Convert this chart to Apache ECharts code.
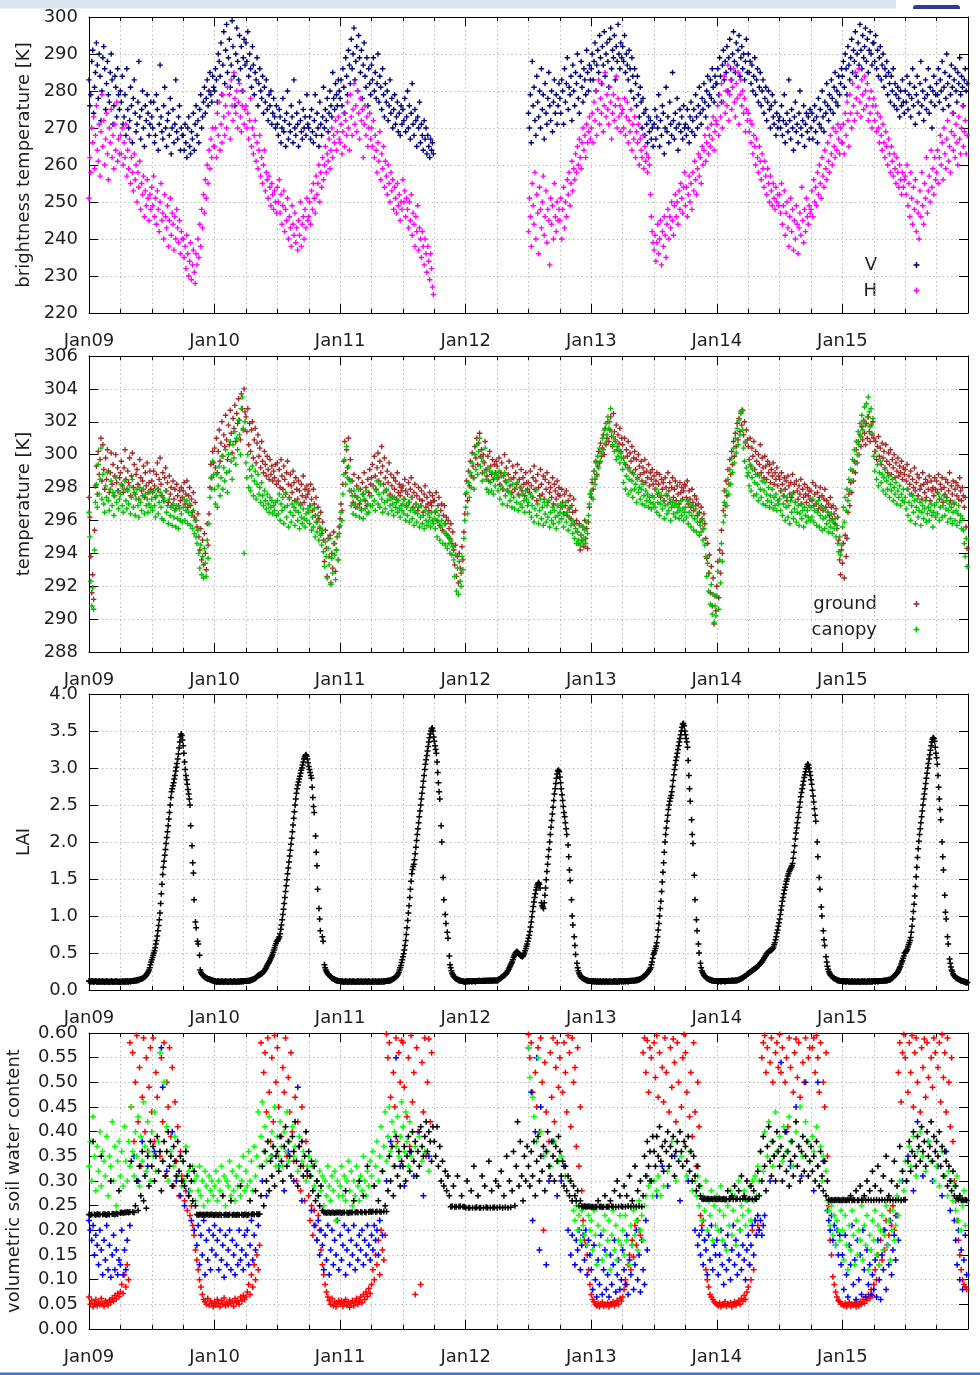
<!DOCTYPE html>
<html>
<head>
<meta charset="utf-8">
<title>Brightness temperature, temperature, LAI and soil moisture 2009-2015</title>
<script src="https://cdn.jsdelivr.net/npm/echarts@6/dist/echarts.min.js"></script>
<style>
  html, body { margin: 0; padding: 0; background: #ffffff; }
  #chart { width: 980px; height: 1375px; }
</style>
</head>
<body>
<div id="chart"></div>
<script>
// ---------------------------------------------------------------
// Time base: every row below covers one calendar quarter
// (Q1 2009 ... Q4 2015); samples in a row are evenly spaced in it.
// An empty row means no data in that quarter.
// ---------------------------------------------------------------
const YEAR0 = 2009;
const yearLabels = ['Jan09', 'Jan10', 'Jan11', 'Jan12', 'Jan13', 'Jan14', 'Jan15'];

// Panel 1: brightness temperature [K]
const tbV = [
  [283,276,279,288,291,274,281,285,293,287,278,290,284,272,280,289,292,286,275,282,288,279,277,285,290,283,271,276,284,281,273,286,279,275],
  [280,277,284,271,273,279,268,286,275,270,272,281,276,266,278,283,274,269,271,277,288,273,267,275,280,270,265,276,272,279,274,268,271,277],
  [273,270,277,266,268,279,275,264,271,287,273,269,267,276,281,270,265,272,274,268,278,263,270,275,266,271,283,269,267,273,276,264,270,268],
  [268,264,271,266,262,270,273,265,263,269,267,274,264,271,276,268,272,266,275,279,270,273,277,281,274,278,283,276,280,285,279,277,284,281],
  [280,286,283,277,290,288,284,293,279,287,296,282,291,298,285,289,294,281,287,299,292,284,276,290,297,288,283,295,286,292,280,289,294,287],
  [293,288,296,284,290,286,281,292,287,279,285,283,289,276,282,286,280,278,284,274,281,277,283,275,272,279,276,280,271,274,278,273,270,276],
  [271,268,275,273,266,270,278,269,272,265,274,280,267,271,269,276,273,266,283,270,268,274,271,265,277,272,269,267,275,270,273,268,279,271],
  [270,273,267,275,269,266,272,279,268,274,270,265,277,271,268,273,281,270,275,272,278,269,274,280,276,273,285,278,275,282,279,276,283,280],
  [278,283,276,286,281,274,289,284,279,291,287,282,294,286,290,297,283,288,292,280,295,289,285,291,278,287,293,284,281,289,276,286,282,279],
  [287,283,289,280,285,278,282,290,277,284,281,275,286,279,273,282,277,280,272,276,283,274,278,270,275,279,271,273,277,269,274,268,276,271],
  [275,272,278,269,273,280,270,276,267,274,282,271,268,275,272,265,273,270,277,266,271,268,264,272,267,270,263,268,265,262,267,264,266,263],
  [], [], [],
  [274,270,279,266,288,276,281,272,268,284,277,273,280,270,286,275,279,267,282,274,271,278,285,276,272,280,269,277,283,274,279,271,276,282],
  [278,274,283,280,271,286,277,282,289,275,281,279,284,272,287,280,276,285,282,290,278,274,284,288,281,277,286,283,279,291,285,280,287,283],
  [286,290,283,288,293,280,287,291,285,295,289,282,292,287,296,284,290,293,288,281,294,297,286,291,289,295,283,292,288,298,290,286,293,289],
  [292,288,295,285,290,287,283,291,286,280,289,284,278,286,282,276,284,279,273,281,277,270,278,274,268,275,271,266,273,269,272,267,270,265],
  [271,275,267,273,270,279,265,272,268,276,274,263,270,281,269,273,266,277,271,268,285,272,267,274,270,278,264,271,275,269,273,267,276,270],
  [271,268,275,270,266,273,277,269,272,275,268,279,273,270,276,281,274,271,278,275,282,277,273,280,284,276,279,283,278,286,281,277,284,282],
  [282,286,279,289,284,277,287,291,283,288,285,292,280,289,294,286,283,290,296,288,285,293,287,291,295,284,289,292,286,290,283,288,294,285],
  [290,285,288,282,287,280,284,289,279,283,286,277,281,285,276,280,283,274,278,281,272,277,280,275,270,276,279,273,271,277,268,274,270,272],
  [273,270,276,268,272,279,266,271,274,269,283,272,267,275,270,264,273,277,269,271,266,274,280,270,268,272,276,265,271,274,269,273,267,275],
  [270,274,267,272,276,269,273,266,278,271,275,270,280,273,269,277,274,282,276,272,279,275,283,278,274,281,285,277,280,276,284,279,282,286],
  [284,288,281,290,286,279,292,287,283,289,294,285,291,288,296,284,290,293,287,298,291,286,295,289,292,297,288,294,285,291,296,290,287,293],
  [293,288,295,286,291,284,289,292,283,287,290,281,286,284,288,279,285,282,277,284,280,286,276,282,279,275,281,278,273,280,276,283,277,274],
  [280,277,284,275,279,282,273,278,286,276,281,271,279,284,277,274,282,288,276,280,272,278,283,275,279,286,274,281,277,270,280,284,276,279],
  [282,279,286,277,283,280,288,275,281,285,278,290,282,276,284,279,287,281,274,283,286,280,277,285,282,289,279,284,281,276,283,286,280,282]
];
const tbH = [
  [251,262,258,270,266,273,259,268,276,264,261,271,257,269,279,265,272,260,267,274,263,256,270,266,275,262,268,259,271,264,277,261,267,263],
  [268,263,270,260,266,262,271,257,264,259,267,255,262,258,253,263,256,260,250,258,254,261,248,255,252,257,246,253,249,256,251,245,252,248],
  [254,249,257,246,251,244,253,248,242,250,255,245,247,240,252,246,243,249,238,245,251,241,247,244,237,246,240,248,243,239,245,236,242,240],
  [240,235,238,232,241,236,230,234,239,229,233,237,231,228,236,233,240,235,244,238,248,243,252,247,256,251,260,255,264,259,267,262,270,265],
  [265,270,262,274,268,277,264,271,266,279,273,268,276,270,281,274,279,267,283,276,272,285,278,274,280,270,277,282,273,269,276,280,271,275],
  [276,270,274,267,272,278,265,270,263,268,272,261,266,259,264,268,257,262,255,260,264,253,258,256,251,257,254,249,255,252,248,253,250,247],
  [254,250,256,247,252,244,249,253,242,248,245,251,240,246,243,238,249,244,241,247,239,243,237,245,241,250,238,244,246,240,248,243,251,245],
  [246,250,244,253,248,255,251,247,257,252,255,260,250,258,254,262,256,260,265,258,263,261,267,259,264,270,262,268,266,272,264,269,273,267],
  [266,271,263,269,274,265,272,268,277,270,264,279,273,268,275,282,271,276,269,280,274,267,278,272,275,262,271,276,268,273,265,270,274,267],
  [270,265,272,262,268,264,258,266,261,269,256,263,259,265,254,261,257,252,260,255,250,258,253,256,248,254,251,247,255,249,252,245,250,248],
  [256,250,253,246,251,248,243,250,245,252,241,247,244,238,246,242,249,237,243,240,235,242,238,233,240,236,231,238,234,229,236,232,227,225],
  [], [], [],
  [242,251,246,238,255,249,244,258,240,252,247,236,254,248,243,250,257,241,246,253,239,248,245,233,251,244,249,240,255,246,242,250,245,248],
  [245,251,240,248,254,243,250,246,256,252,258,249,255,261,253,259,256,263,258,265,260,267,262,259,266,270,264,268,262,271,266,269,273,267],
  [270,274,266,277,272,280,268,275,283,271,278,274,282,269,276,285,273,279,275,271,281,277,267,274,279,272,276,284,270,278,273,276,269,274],
  [275,270,278,268,273,277,266,272,269,275,264,271,267,273,262,269,266,271,260,267,264,262,268,259,265,261,263,258,262,260,252,246,242,239],
  [237,241,234,239,244,236,240,245,233,242,238,246,241,235,244,248,240,246,243,250,245,241,249,252,246,250,244,253,248,255,251,247,254,258],
  [249,254,246,252,257,250,255,248,258,253,261,256,252,259,263,257,262,255,265,260,264,268,261,266,270,263,268,265,271,267,273,264,269,272],
  [271,276,268,279,273,282,270,277,284,274,280,276,287,272,279,283,275,281,286,277,273,282,278,285,271,279,283,276,280,274,278,269,275,272],
  [274,269,272,266,271,263,268,265,260,267,262,258,265,261,256,263,259,254,261,257,252,259,255,250,257,253,249,255,251,248,254,250,252,249],
  [252,247,255,244,249,253,241,247,250,243,238,246,251,242,248,237,245,240,249,244,236,243,247,241,254,245,239,248,242,251,246,244,249,247],
  [248,253,246,256,250,254,249,258,252,260,255,251,262,257,254,264,259,256,266,261,258,268,263,260,270,265,262,269,264,271,267,263,270,266],
  [266,271,263,274,268,277,272,265,279,274,270,282,276,272,285,278,274,281,286,277,273,283,279,275,284,280,276,282,272,278,274,280,270,276],
  [278,272,276,269,274,270,266,273,268,264,271,266,262,269,265,260,267,263,258,265,261,257,263,259,255,262,258,254,260,256,252,258,254,256],
  [257,252,260,249,255,246,258,251,244,254,248,256,242,250,247,240,253,246,258,249,244,255,251,262,247,253,257,250,264,254,259,252,262,256],
  [258,264,255,262,268,260,266,256,270,263,259,267,272,261,265,258,269,274,264,268,262,271,266,260,273,267,263,270,276,265,269,272,263,268]
];

// Panel 2: ground and canopy temperature [K]
const tGround = [
  [297.4,296.2,293.8,291.6,292.7,291.2,295.4,298.1,299.3,297.6,300.2,298.8,299.7,301.0,298.4,300.6,299.1,297.9,299.8,298.5,300.3,299.0,297.7,298.9,300.1,298.2,299.4,297.5,298.7,300.0,298.3,299.2,297.8,298.6],
  [298.9,299.6,298.1,297.7,299.2,300.3,298.5,297.9,299.0,298.3,299.8,297.5,298.7,300.1,298.0,299.4,297.6,298.8,299.1,298.2,297.3,299.7,298.6,297.8,298.4,299.3,297.4,298.9,298.1,299.5,297.7,298.3,299.0,297.9],
  [298.4,297.7,299.0,298.1,297.4,298.8,299.5,297.9,298.5,299.8,298.2,297.5,298.9,297.2,298.6,299.2,297.8,298.3,297.1,298.7,297.6,298.0,296.9,298.4,297.3,297.9,296.7,298.2,297.5,296.9,297.8,297.2,298.0,297.4],
  [297.8,298.3,297.0,297.6,298.4,296.8,297.5,298.0,296.9,297.3,296.5,297.7,296.2,297.1,296.0,295.6,296.4,295.0,294.2,295.5,293.6,294.8,293.3,295.2,294.0,293.0,295.8,294.5,296.4,298.0,299.4,298.6,300.2,299.5],
  [300.4,299.2,301.0,298.9,300.2,301.5,299.6,300.7,302.0,299.9,301.2,300.5,302.4,300.9,299.7,301.8,300.6,302.7,301.3,300.1,302.2,301.6,303.0,300.8,302.5,301.9,303.4,302.1,300.9,303.7,302.8,301.5,304.0,302.6],
  [302.3,301.4,302.8,300.6,301.9,300.2,301.5,302.0,299.8,300.9,301.6,299.5,300.7,301.2,299.9,300.4,299.2,300.8,299.6,298.9,300.2,299.4,298.7,299.9,299.1,298.5,299.7,298.8,299.3,298.4,299.0,298.6,299.4,298.2],
  [299.5,298.4,299.1,298.0,299.7,298.7,297.9,299.3,298.5,297.6,298.9,299.6,298.2,297.4,298.8,298.1,297.7,299.0,298.3,297.2,298.6,297.9,297.3,298.4,297.8,297.0,298.2,297.5,298.7,297.1,297.9,297.4,298.1,297.6],
  [297.8,296.9,298.2,297.3,296.6,297.9,297.0,296.3,297.4,295.9,296.8,296.1,295.5,296.5,295.2,295.9,294.8,293.5,295.4,294.3,292.6,294.9,293.8,295.1,292.2,294.0,293.1,295.3,294.6,292.9,294.2,295.0,293.6,295.6],
  [296.1,297.0,296.6,298.2,299.6,300.8,298.9,300.3,299.2,301.0,298.5,299.7,297.8,298.4,297.1,298.8,297.5,296.8,298.1,297.4,298.6,297.0,297.9,296.7,298.3,297.6,298.9,297.2,298.0,296.9,298.5,297.7,299.1,298.2],
  [298.6,299.4,298.1,299.9,298.7,297.9,299.2,300.1,298.4,299.6,298.9,300.5,299.3,298.2,299.8,298.6,297.8,299.0,298.3,299.5,297.6,298.8,298.1,297.4,298.6,297.9,298.4,297.3,298.9,297.7,298.2,297.5,298.0,297.8],
  [298.1,297.3,298.5,297.8,296.9,297.6,298.3,297.1,297.9,298.6,297.4,296.8,297.7,298.2,297.0,297.5,296.6,298.0,297.3,296.9,297.8,297.2,296.5,297.6,298.1,296.8,297.4,297.0,296.6,297.7,297.1,296.9,297.5,297.2],
  [297.2,296.5,297.7,296.0,296.9,297.4,295.7,296.6,297.0,295.4,296.3,296.9,295.8,296.2,295.1,296.0,295.5,294.9,295.8,294.6,295.3,294.2,293.3,294.5,292.6,293.8,292.2,294.0,293.1,292.8,294.4,293.6,295.3,296.4],
  [297.6,298.4,297.2,299.0,298.1,299.6,298.7,300.1,299.3,298.6,300.5,299.8,301.0,299.4,300.7,301.3,299.9,300.3,298.9,300.0,299.5,300.8,299.1,298.7,299.9,298.4,300.2,299.3,298.8,299.7,298.5,299.4,298.9,299.6],
  [299.3,298.6,299.8,298.2,298.9,299.5,297.9,298.7,300.0,298.4,299.2,297.8,298.8,299.6,298.1,298.5,297.7,299.3,298.6,297.9,298.9,298.2,299.4,297.6,298.5,298.0,299.1,297.8,298.6,298.2,297.5,298.9,298.3,297.9],
  [298.3,297.7,299.0,298.1,297.4,298.6,299.3,297.9,298.4,297.2,298.8,298.0,297.5,299.1,298.2,297.6,298.7,297.3,298.5,297.9,298.9,297.1,298.3,297.7,298.0,297.4,298.6,297.0,298.2,297.8,297.3,298.4,297.6,298.0],
  [297.5,296.8,297.9,297.1,296.4,297.6,296.9,297.8,296.3,297.2,296.7,297.5,296.1,296.9,296.5,297.3,295.8,296.6,296.0,295.3,294.6,295.8,294.2,295.1,294.8,295.6,294.4,296.0,294.9,295.5,294.3,295.9,296.8,297.6],
  [297.4,298.3,297.9,299.0,298.5,299.6,298.8,299.3,300.2,299.5,300.7,299.9,300.4,301.2,300.0,301.6,300.6,301.0,302.0,300.8,301.5,302.3,301.1,300.5,302.5,301.4,300.9,301.8,300.3,301.2,300.7,301.6,300.2,301.0],
  [300.6,299.8,301.0,299.4,300.3,299.9,300.8,299.2,300.1,299.6,300.5,298.9,299.8,300.2,299.1,299.7,298.6,300.0,299.3,298.8,299.6,298.4,299.2,298.9,299.7,298.3,299.0,298.6,299.4,298.1,298.9,298.5,299.1,298.2],
  [298.7,297.9,298.4,298.9,297.6,298.2,298.8,297.4,298.5,297.9,298.3,297.2,298.6,298.0,297.5,298.9,297.8,298.3,297.1,298.0,298.6,297.4,297.9,298.4,297.2,298.1,297.6,297.0,298.3,297.7,298.0,297.3,297.8,298.2],
  [298.1,297.4,298.4,297.0,297.8,297.3,296.8,297.9,297.1,296.6,297.5,296.9,297.3,296.3,297.0,296.5,295.9,296.8,296.1,295.5,296.4,295.8,294.9,293.7,294.6,292.8,293.9,291.6,293.2,290.8,292.5,289.7,291.4,290.5],
  [292.0,293.5,291.3,294.2,292.8,295.4,294.0,296.6,297.8,296.9,298.4,297.5,299.1,298.2,299.7,298.8,300.2,299.4,300.8,299.9,301.3,300.5,301.9,300.9,302.2,301.4,302.6,301.8,302.7,301.2,302.0,300.7,301.5,300.9],
  [300.5,299.7,301.0,299.3,300.4,299.9,300.8,299.1,300.2,299.6,298.8,300.0,299.4,300.6,298.9,299.8,299.2,298.6,299.9,299.3,298.5,299.6,298.9,299.4,298.3,299.1,298.7,299.5,298.2,298.9,298.5,299.2,298.1,298.7],
  [298.5,297.8,298.9,298.2,297.5,298.6,297.9,298.4,297.2,298.7,298.1,297.6,298.3,297.4,298.8,297.7,298.2,297.1,298.4,297.8,297.3,298.1,297.6,298.5,297.0,297.9,297.4,298.2,297.6,297.1,298.0,297.5,297.8,297.3],
  [297.8,297.2,298.3,296.9,297.6,298.1,297.0,297.7,296.7,297.4,298.0,296.9,297.5,296.6,297.3,297.9,296.8,297.2,296.5,297.0,296.3,297.4,296.8,296.1,296.9,296.4,295.8,296.7,295.5,296.2,294.8,293.6,292.7,294.2],
  [293.4,294.6,292.5,295.1,293.8,294.9,296.5,297.6,296.9,298.3,297.7,299.0,298.4,299.6,298.9,300.3,299.5,300.8,300.0,301.2,300.5,301.7,300.9,302.1,301.3,300.6,301.9,301.0,302.3,301.4,300.8,301.8,301.2,302.0],
  [301.0,300.2,300.8,299.7,300.5,301.1,299.9,300.4,299.4,300.7,299.8,300.2,299.2,300.6,299.6,298.9,300.1,299.4,300.3,298.8,299.7,299.2,300.0,298.6,299.5,299.0,299.8,298.7,299.3,298.9,299.6,298.5,299.2,298.8],
  [299.1,298.4,299.4,297.9,298.7,298.2,299.0,297.6,298.5,298.0,299.2,297.8,298.3,298.8,297.5,298.6,297.9,298.1,297.3,298.9,298.2,297.7,298.5,297.4,298.3,297.9,298.7,297.2,298.4,297.8,298.0,297.5,298.6,297.9],
  [298.4,297.7,298.8,297.3,298.2,297.9,298.6,297.1,298.0,297.6,298.5,297.4,298.3,297.8,298.9,297.2,298.1,297.6,298.4,297.0,297.9,298.3,297.5,298.1,297.3,298.6,297.8,297.2,298.0,297.5,296.8,297.4,295.6,294.3]
];
const tCanopy = [
  [296.5,295.0,292.3,290.8,291.9,290.6,294.2,297.1,298.2,296.8,299.4,297.6,298.5,300.4,297.3,298.8,297.0,296.5,298.1,297.4,298.9,297.2,296.6,297.9,298.4,296.9,297.7,296.3,297.5,298.6,297.1,297.8,296.7,297.3],
  [297.6,298.2,296.9,296.5,297.9,298.4,297.2,296.7,297.8,297.0,298.1,296.4,297.4,298.5,296.8,297.7,296.3,297.3,297.9,296.9,296.2,298.0,297.1,296.6,297.5,297.9,296.4,297.6,296.9,297.3,296.5,297.0,297.7,296.8],
  [297.3,296.6,297.8,296.9,296.2,297.5,297.9,296.4,297.1,297.7,296.8,296.1,297.4,296.0,297.2,297.8,296.5,296.9,295.8,297.3,296.3,296.8,295.7,297.0,296.2,296.6,295.6,296.9,296.1,295.5,296.7,296.0,296.4,295.9],
  [296.8,297.3,296.0,296.6,297.2,295.8,296.5,297.0,295.7,296.3,295.5,296.6,295.2,296.0,295.0,294.6,295.4,294.0,293.1,294.5,292.7,293.8,292.5,294.3,293.4,292.6,294.8,293.7,295.8,297.4,298.6,297.9,299.6,298.8],
  [297.9,297.0,298.8,296.8,298.1,299.3,297.5,298.6,299.9,297.9,299.2,298.4,300.3,298.9,297.7,300.0,299.0,300.8,299.6,298.5,300.6,299.8,301.4,299.4,301.0,300.3,302.1,301.2,300.0,302.8,303.5,301.6,294.0,302.0],
  [299.5,298.6,300.0,298.0,299.1,297.8,298.7,299.3,297.5,298.4,299.0,297.3,298.2,298.8,297.6,298.0,297.1,298.3,297.5,296.9,297.8,297.2,296.7,297.6,297.0,296.5,297.4,296.8,297.2,296.4,296.9,296.6,297.1,296.3],
  [297.2,296.4,297.6,296.0,297.0,296.6,297.4,295.8,296.8,297.7,296.2,296.9,295.6,297.3,296.5,295.9,297.0,296.3,296.8,295.7,296.6,297.1,296.0,296.5,295.5,296.9,296.2,295.8,296.7,296.1,295.6,296.4,296.0,296.7],
  [296.5,295.8,296.9,295.4,296.2,295.6,296.7,295.0,295.9,295.3,296.3,294.8,295.6,295.1,294.5,295.4,294.1,293.2,294.7,293.8,292.5,294.3,293.3,294.9,292.1,293.7,292.8,294.6,293.9,292.4,294.2,295.0,293.6,295.2],
  [295.7,296.5,296.0,297.6,298.8,299.7,298.2,300.5,298.6,299.3,297.8,298.4,296.9,297.5,296.4,297.8,297.0,296.3,297.4,296.8,297.9,296.2,297.2,296.6,297.6,296.1,297.3,296.7,297.8,296.4,297.0,296.5,297.5,296.9],
  [297.5,296.9,298.1,297.2,296.6,297.8,298.4,297.0,297.6,296.8,298.2,297.3,296.5,297.7,297.1,296.7,297.9,297.2,296.4,297.5,296.9,297.3,296.6,297.0,296.3,297.4,296.8,297.1,296.5,297.2,296.7,296.2,296.9,296.6],
  [297.0,296.4,297.3,296.0,296.8,296.3,297.1,295.9,296.6,297.4,296.1,296.7,295.7,296.5,297.0,295.9,296.4,296.8,295.6,296.2,296.9,295.8,296.3,295.5,296.6,296.0,295.7,296.4,295.9,296.2,295.6,296.5,296.0,295.8],
  [296.1,295.5,296.6,295.0,295.9,296.3,294.8,295.6,296.0,294.6,295.3,295.8,294.5,295.2,294.3,295.0,294.6,294.0,294.8,293.9,294.4,293.6,292.6,293.9,291.7,293.1,291.5,293.5,292.3,292.0,293.8,293.0,294.9,296.0],
  [296.8,297.7,296.4,298.3,297.4,298.9,298.0,299.5,298.6,297.9,300.0,299.1,300.6,298.8,300.2,301.0,299.3,299.8,298.4,299.6,298.9,300.4,298.5,297.9,299.2,297.7,299.0,298.3,297.8,298.9,297.6,298.6,298.1,298.8],
  [298.5,297.8,299.0,297.3,298.1,298.7,297.0,297.9,298.9,297.5,298.3,296.9,297.8,298.5,297.2,297.6,296.8,298.2,297.4,296.7,297.9,297.1,298.3,296.6,297.5,297.0,298.0,296.8,297.6,297.2,296.5,297.8,297.3,296.9],
  [297.1,296.5,297.6,296.2,296.9,297.4,295.9,296.7,297.8,296.3,297.0,295.8,296.6,297.3,296.1,296.8,295.7,297.1,296.4,295.9,296.9,296.2,297.2,295.6,296.5,296.0,296.8,295.8,296.6,296.2,295.5,296.9,296.3,295.9],
  [296.5,297.0,296.1,296.8,295.6,296.4,297.1,295.9,296.5,295.4,296.2,296.8,295.7,296.0,295.2,295.8,294.9,295.5,294.6,295.3,294.8,295.7,294.5,295.1,294.7,295.6,294.9,295.4,294.6,295.9,295.2,296.3,297.0,297.6],
  [297.8,298.5,297.3,299.0,298.2,299.5,298.7,299.9,299.2,300.4,299.6,300.1,301.0,300.3,301.5,300.7,301.9,301.2,302.3,301.6,302.0,302.8,301.4,300.6,301.1,300.2,300.8,299.7,300.5,299.9,300.3,299.5,300.1,299.8],
  [299.1,298.3,299.5,297.9,298.7,299.2,297.6,298.5,299.0,297.8,298.4,297.4,298.8,297.9,298.2,297.1,298.5,297.7,298.0,297.3,297.9,297.0,298.2,297.5,296.9,297.8,297.2,297.6,296.8,297.4,297.1,296.7,297.5,297.0],
  [297.4,296.8,297.9,296.5,297.1,297.7,296.3,297.0,297.5,296.7,297.2,296.1,296.9,297.6,296.4,297.0,296.6,297.3,296.0,296.8,297.1,296.4,296.9,296.2,297.0,296.5,296.8,296.1,296.6,297.2,296.3,296.7,296.0,296.5],
  [296.8,296.2,297.2,295.8,296.5,297.0,295.6,296.3,296.9,295.4,296.1,296.7,295.3,295.9,296.4,295.1,295.7,295.3,296.0,294.8,295.5,294.5,293.8,292.6,293.4,291.7,292.8,290.9,292.1,290.3,291.5,289.8,290.8,290.2],
  [291.4,292.9,290.6,293.6,292.2,294.6,293.5,295.9,297.1,296.3,297.8,296.9,298.5,297.6,299.1,298.2,299.8,298.9,300.4,299.5,301.0,300.1,301.6,300.6,302.1,301.2,302.5,302.7,301.5,300.4,299.6,300.8,299.2,298.7],
  [298.9,298.1,299.4,297.8,298.6,299.1,297.5,298.3,298.8,297.6,298.2,297.2,298.7,297.9,297.4,298.4,297.0,297.8,298.3,296.9,297.6,297.2,298.0,296.8,297.5,297.1,297.9,296.7,297.4,296.9,297.6,296.6,297.2,297.0],
  [297.3,296.6,297.8,296.3,297.0,297.5,296.0,296.8,297.4,296.2,296.9,295.8,297.2,296.5,297.6,296.1,296.7,297.1,295.9,296.5,296.9,295.7,296.4,297.0,296.1,296.6,295.6,296.8,296.3,295.9,296.6,296.2,296.9,296.0],
  [296.8,296.2,297.3,295.9,296.6,297.0,295.7,296.5,297.2,295.6,296.3,296.8,295.4,296.1,296.7,295.5,296.2,295.8,296.5,295.3,296.0,295.6,296.4,295.2,295.9,295.5,296.1,295.0,295.7,294.6,294.1,295.0,293.9,294.5],
  [295.6,296.8,295.9,297.4,296.6,297.9,297.2,298.5,297.8,299.1,298.4,299.7,299.0,300.3,299.5,300.8,300.0,301.4,300.6,301.9,301.1,302.4,301.5,302.0,302.9,301.8,303.1,302.3,303.5,302.6,301.7,302.8,301.3,302.2],
  [299.9,299.0,300.2,298.5,299.4,298.1,298.9,299.6,298.3,298.8,297.8,298.6,299.1,297.6,298.4,297.9,298.7,297.4,298.2,297.8,298.5,297.2,298.0,297.6,298.3,297.0,297.8,297.4,298.1,296.9,297.6,297.2,297.9,297.1],
  [297.4,296.7,297.9,296.3,297.1,297.6,296.0,296.9,297.5,296.5,297.2,295.8,296.8,297.3,296.2,296.6,297.1,295.7,296.5,296.9,296.1,296.7,297.2,295.9,296.4,296.8,296.0,296.6,297.0,296.3,295.6,296.5,296.9,296.2],
  [297.1,296.4,297.6,296.0,296.8,297.3,296.2,296.9,297.5,296.3,296.7,297.2,295.9,296.6,297.0,296.1,296.8,295.8,296.5,297.1,296.0,296.6,295.7,296.4,296.9,295.9,296.3,295.5,296.1,295.4,294.6,293.8,294.9,293.2]
];

// Panel 3: leaf area index
const lai = [
  [0.12,0.12,0.11,0.11,0.12,0.12,0.11,0.11,0.11,0.12,0.12,0.11,0.11,0.11,0.11,0.12,0.11,0.11,0.11,0.11,0.12,0.11,0.11,0.11,0.11,0.11,0.12,0.11,0.11,0.11,0.11,0.11,0.11,0.12,0.11,0.11,0.11,0.11,0.11,0.11,0.12,0.11,0.11,0.11,0.11,0.11],
  [0.11,0.11,0.11,0.12,0.11,0.11,0.11,0.12,0.11,0.11,0.12,0.11,0.11,0.12,0.12,0.11,0.12,0.12,0.12,0.12,0.13,0.12,0.13,0.13,0.13,0.14,0.13,0.14,0.14,0.15,0.15,0.15,0.16,0.16,0.17,0.18,0.18,0.19,0.20,0.22,0.23,0.25,0.27,0.30,0.34,0.38],
  [0.41,0.44,0.47,0.50,0.53,0.57,0.62,0.67,0.73,0.80,0.87,0.95,1.04,1.17,1.30,1.43,1.56,1.66,1.74,1.82,1.90,1.98,2.06,2.14,2.22,2.31,2.40,2.50,2.60,2.68,2.72,2.76,2.80,2.85,2.90,2.96,3.01,3.06,3.12,3.19,3.27,3.35,3.42,3.46,3.44,3.38],
  [3.30,3.20,3.08,2.98,2.90,2.84,2.78,2.71,2.65,2.58,2.50,2.22,null,1.95,1.72,1.58,1.22,null,0.92,0.84,null,0.66,0.62,null,0.47,0.27,0.24,0.22,0.21,0.20,0.19,0.18,0.17,0.17,0.16,0.16,0.15,0.15,0.15,0.14,0.14,0.14,0.13,0.13,0.13,0.12],
  [0.12,0.12,0.11,0.11,0.11,0.12,0.11,0.11,0.11,0.11,0.12,0.11,0.11,0.11,0.11,0.11,0.12,0.11,0.11,0.11,0.11,0.11,0.11,0.12,0.11,0.11,0.11,0.11,0.11,0.12,0.11,0.11,0.11,0.11,0.11,0.12,0.11,0.11,0.12,0.11,0.12,0.12,0.11,0.12,0.12,0.12],
  [0.12,0.12,0.12,0.13,0.12,0.13,0.13,0.13,0.14,0.14,0.14,0.15,0.15,0.16,0.16,0.17,0.18,0.19,0.20,0.20,0.21,0.21,0.22,0.22,0.23,0.24,0.25,0.26,0.28,0.29,0.31,0.33,0.35,0.36,0.38,0.40,0.42,0.44,0.46,0.48,0.51,0.54,0.57,0.60,0.63,0.66],
  [0.66,0.68,0.70,0.72,0.76,0.82,0.88,0.95,1.02,1.09,1.17,1.25,1.33,1.41,1.49,1.57,1.65,1.73,1.81,1.89,1.97,2.05,2.14,2.23,2.32,2.41,2.50,2.58,2.66,2.72,2.77,2.81,2.85,2.89,2.93,2.97,3.00,3.04,3.08,3.12,3.15,3.17,3.18,3.16,3.12,3.07],
  [3.02,2.98,2.94,2.90,2.86,2.74,2.60,2.48,2.40,null,2.08,1.86,1.68,1.36,null,1.10,0.96,0.80,null,null,0.72,0.66,null,0.34,0.30,0.27,0.25,0.23,0.22,0.21,0.20,0.19,0.18,0.17,0.16,0.16,0.15,0.15,0.14,0.14,0.13,0.13,0.13,0.12,0.12,0.12],
  [0.12,0.11,0.11,0.12,0.11,0.11,0.11,0.11,0.12,0.11,0.11,0.11,0.11,0.11,0.12,0.11,0.11,0.11,0.11,0.12,0.11,0.11,0.11,0.11,0.11,0.11,0.12,0.11,0.11,0.11,0.11,0.12,0.11,0.11,0.11,0.11,0.11,0.12,0.11,0.11,0.11,0.11,0.12,0.11,0.11,0.11],
  [0.11,0.11,0.12,0.11,0.11,0.11,0.12,0.11,0.11,0.11,0.11,0.12,0.11,0.11,0.11,0.12,0.11,0.11,0.12,0.11,0.12,0.12,0.12,0.12,0.13,0.12,0.13,0.13,0.13,0.14,0.14,0.15,0.15,0.16,0.17,0.17,0.18,0.19,0.20,0.22,0.24,0.27,0.30,0.33,0.37,0.41],
  [0.45,0.49,0.54,0.60,0.67,0.75,0.84,0.94,1.04,1.14,1.25,1.36,1.47,1.57,1.63,1.67,1.70,1.76,1.84,1.93,2.02,2.10,2.18,2.26,2.34,2.42,2.50,2.58,2.66,2.74,2.82,2.90,2.98,3.05,3.11,3.17,3.23,3.29,3.35,3.41,3.46,3.50,3.53,3.54,3.50,3.42],
  [3.36,3.30,3.25,3.20,3.08,2.94,2.80,2.68,2.58,null,2.22,2.00,null,1.52,1.22,null,1.02,0.90,null,0.78,0.70,null,0.46,0.34,0.30,0.26,0.23,0.21,0.19,0.18,0.17,0.16,0.15,0.15,0.14,0.14,0.13,0.13,0.13,0.12,0.12,0.12,0.12,0.11,0.11,0.11],
  [0.11,0.12,0.11,0.12,0.12,0.11,0.12,0.12,0.12,0.11,0.12,0.12,0.12,0.12,0.11,0.12,0.12,0.12,0.12,0.12,0.13,0.12,0.12,0.12,0.12,0.13,0.12,0.12,0.13,0.12,0.13,0.12,0.13,0.13,0.12,0.13,0.13,0.13,0.12,0.13,0.13,0.13,0.13,0.13,0.13,0.13],
  [0.13,0.13,0.14,0.15,0.15,0.16,0.17,0.17,0.18,0.19,0.20,0.20,0.21,0.22,0.23,0.25,0.26,0.28,0.30,0.32,0.34,0.36,0.38,0.41,0.44,0.46,0.48,0.50,0.51,0.52,0.51,0.50,0.49,0.48,0.47,0.46,0.46,0.45,0.46,0.48,0.50,0.53,0.56,0.59,0.62,0.66],
  [0.70,0.74,0.79,0.85,0.92,0.99,1.06,1.13,1.19,1.25,1.30,1.35,1.39,1.42,1.44,1.45,1.43,1.38,null,1.18,1.14,1.12,1.10,1.18,1.28,1.38,1.49,1.60,1.70,1.80,1.90,2.00,2.10,2.20,2.29,2.38,2.47,2.56,2.65,2.72,2.79,2.86,2.92,2.96,2.97,2.95],
  [2.88,2.80,2.72,2.64,2.56,2.48,2.40,2.34,2.26,2.18,2.10,null,1.96,1.80,1.62,1.48,null,1.22,1.00,0.88,null,0.72,0.60,0.48,null,0.36,0.30,0.26,0.23,0.21,0.19,0.18,0.17,0.16,0.16,0.15,0.15,0.14,0.14,0.13,0.13,0.13,0.12,0.12,0.12,0.12],
  [0.12,0.12,0.11,0.12,0.12,0.11,0.12,0.11,0.11,0.12,0.11,0.11,0.11,0.12,0.11,0.11,0.11,0.11,0.12,0.11,0.11,0.11,0.12,0.11,0.11,0.11,0.11,0.12,0.11,0.11,0.11,0.11,0.11,0.12,0.11,0.11,0.12,0.11,0.11,0.11,0.12,0.11,0.12,0.12,0.11,0.12],
  [0.12,0.11,0.12,0.12,0.11,0.12,0.12,0.12,0.11,0.12,0.12,0.13,0.12,0.12,0.13,0.13,0.12,0.13,0.13,0.13,0.14,0.13,0.14,0.14,0.14,0.15,0.15,0.16,0.16,0.17,0.18,0.18,0.19,0.20,0.21,0.22,0.23,0.24,0.25,0.27,0.28,0.30,0.34,0.38,0.43,0.48],
  [0.50,0.53,0.56,0.59,0.64,0.72,0.81,0.90,1.00,1.10,1.20,1.33,1.46,1.59,1.72,1.86,2.00,2.10,2.19,2.28,2.36,2.44,2.50,2.55,2.59,2.63,2.68,2.75,2.83,2.91,2.98,3.04,3.10,3.15,3.20,3.25,3.30,3.35,3.40,3.45,3.50,3.55,3.59,3.60,3.57,3.50],
  [3.45,3.40,3.35,3.28,3.10,2.90,2.72,2.55,null,2.30,2.10,1.98,null,1.55,1.22,null,0.95,0.80,null,0.62,0.50,null,0.36,0.30,0.26,0.24,0.22,0.20,0.19,0.18,0.17,0.16,0.16,0.15,0.15,0.14,0.14,0.14,0.13,0.13,0.13,0.12,0.12,0.12,0.12,0.12],
  [0.12,0.12,0.11,0.12,0.12,0.12,0.11,0.12,0.12,0.12,0.12,0.12,0.11,0.12,0.12,0.12,0.12,0.13,0.12,0.12,0.12,0.13,0.12,0.13,0.13,0.12,0.13,0.13,0.13,0.13,0.13,0.14,0.14,0.14,0.15,0.15,0.16,0.16,0.17,0.17,0.18,0.19,0.19,0.20,0.21,0.22],
  [0.22,0.23,0.24,0.24,0.25,0.26,0.26,0.27,0.28,0.28,0.29,0.30,0.30,0.31,0.32,0.33,0.34,0.35,0.36,0.37,0.38,0.40,0.41,0.43,0.44,0.46,0.47,0.49,0.50,0.51,0.52,0.53,0.53,0.54,0.54,0.55,0.56,0.58,0.61,0.64,0.68,0.72,0.77,0.81,0.86,0.91],
  [0.96,1.02,1.08,1.14,1.20,1.25,1.30,1.35,1.39,1.43,1.47,1.50,1.54,1.57,1.60,1.62,1.64,1.66,1.68,1.71,1.78,1.86,1.95,2.04,2.12,2.19,2.26,2.33,2.40,2.47,2.54,2.61,2.67,2.72,2.77,2.82,2.87,2.91,2.95,2.99,3.02,3.05,3.04,3.00,2.95,2.90],
  [2.84,2.78,2.70,2.62,2.54,2.45,2.36,2.28,null,2.00,1.80,null,1.52,1.36,null,1.12,1.00,null,0.80,0.68,0.60,null,0.45,0.38,0.32,0.28,0.25,0.23,0.21,0.20,0.19,0.18,0.17,0.16,0.16,0.15,0.15,0.14,0.14,0.13,0.13,0.13,0.12,0.12,0.12,0.12],
  [0.12,0.11,0.12,0.12,0.11,0.12,0.11,0.12,0.12,0.11,0.11,0.12,0.11,0.11,0.12,0.11,0.11,0.11,0.12,0.11,0.11,0.11,0.11,0.12,0.11,0.11,0.11,0.11,0.11,0.12,0.11,0.11,0.12,0.11,0.11,0.11,0.11,0.12,0.11,0.11,0.12,0.11,0.11,0.12,0.11,0.12],
  [0.12,0.12,0.11,0.12,0.12,0.12,0.11,0.12,0.12,0.12,0.12,0.12,0.12,0.12,0.13,0.12,0.13,0.13,0.13,0.13,0.13,0.14,0.14,0.14,0.14,0.15,0.16,0.16,0.17,0.18,0.19,0.20,0.21,0.22,0.23,0.24,0.26,0.28,0.30,0.32,0.35,0.38,0.40,0.43,0.46,0.50],
  [0.50,0.52,0.53,0.55,0.58,0.61,0.64,0.67,0.71,0.78,0.86,0.96,1.06,1.16,1.27,1.40,1.53,1.66,1.79,1.91,2.01,2.10,2.18,2.26,2.34,2.42,2.50,2.58,2.65,2.72,2.79,2.86,2.93,3.00,3.06,3.12,3.18,3.24,3.30,3.35,3.39,3.41,3.40,3.36,3.28,3.20],
  [3.14,3.05,2.90,2.74,2.58,2.44,2.30,null,2.00,1.80,1.62,null,1.28,1.05,0.96,null,0.72,0.62,null,0.42,0.36,0.31,0.27,0.25,0.22,0.20,0.19,0.18,0.17,0.16,0.16,0.15,0.15,0.14,0.14,0.13,0.13,0.12,0.12,0.12,0.11,0.11,0.11,0.10,0.10,0.10]
];

// Panel 4: volumetric soil water content, four layers
const swcRed = [
  [0.065,0.05,0.058,0.045,0.052,0.06,0.047,0.055,0.049,0.062,0.051,0.046,0.057,0.053,0.048,0.059,0.054,0.063,0.056,0.068,0.061,0.072,0.066],
  [0.075,0.09,0.072,0.11,0.085,0.13,0.10,0.58,0.45,0.56,0.38,0.50,0.595,0.42,0.53,0.33,0.47,0.59,0.40,0.55,0.36,0.49,0.57],
  [0.44,0.59,0.38,0.52,0.47,0.62,0.35,0.55,0.42,0.58,0.31,0.50,0.45,0.57,0.39,0.53,0.29,0.46,0.34,0.41,0.27,0.36,0.31],
  [0.30,0.26,0.28,0.24,0.27,0.23,0.25,0.21,0.19,0.16,0.14,0.12,0.10,0.085,0.07,0.06,0.055,0.05,0.062,0.048,0.057,0.052,0.045],
  [0.055,0.048,0.06,0.052,0.045,0.058,0.05,0.063,0.047,0.054,0.049,0.059,0.051,0.056,0.046,0.062,0.053,0.058,0.05,0.065,0.057,0.068,0.06],
  [0.065,0.075,0.09,0.07,0.11,0.085,0.13,0.10,0.15,0.12,0.17,0.58,0.61,0.52,0.56,0.44,0.59,0.48,0.38,0.55,0.42,0.595,0.50],
  [0.57,0.45,0.63,0.39,0.53,0.48,0.59,0.35,0.51,0.44,0.56,0.40,0.34,0.47,0.30,0.42,0.37,0.28,0.45,0.33,0.26,0.38,0.31],
  [0.27,0.22,0.25,0.19,0.24,0.21,0.18,0.23,0.20,0.16,0.13,0.11,0.09,0.075,0.065,0.058,0.05,0.062,0.047,0.055,0.045,0.052,0.058],
  [0.05,0.057,0.046,0.053,0.06,0.048,0.055,0.044,0.051,0.058,0.047,0.054,0.062,0.05,0.057,0.065,0.053,0.07,0.06,0.075,0.066,0.082,0.072],
  [0.09,0.12,0.10,0.15,0.13,0.18,0.11,0.20,0.16,0.14,0.19,0.598,0.55,0.58,0.47,0.62,0.52,0.45,0.59,0.38,0.56,0.50,0.585],
  [0.58,0.49,0.61,0.43,0.55,0.37,0.595,0.46,0.52,0.07,0.57,0.40,0.64,0.09,0.54,0.44,0.59,0.35,0.50,0.588,0.42,0.56,0.62],
  [], [], [],
  [0.597,0.55,0.58,0.48,0.62,0.52,0.45,0.57,0.40,0.59,0.50,0.20,0.54,0.44,0.61,0.38,0.56,0.47,0.59,0.42,0.53,0.58,0.49],
  [0.55,0.63,0.48,0.58,0.52,0.44,0.595,0.56,0.41,0.59,0.50,0.53,0.37,0.57,0.33,0.45,0.28,0.22,0.18,0.17,0.15,0.12,0.09],
  [0.07,0.06,0.055,0.05,0.047,0.052,0.045,0.05,0.054,0.046,0.05,0.048,0.053,0.045,0.051,0.049,0.055,0.047,0.052,0.058,0.05,0.062,0.057],
  [0.065,0.08,0.10,0.09,0.13,0.15,0.12,0.18,0.146,0.21,0.17,0.22,0.20,0.19,0.61,0.56,0.59,0.52,0.585,0.48,0.57,0.55,0.62],
  [0.58,0.51,0.595,0.47,0.56,0.64,0.53,0.46,0.59,0.52,0.61,0.44,0.57,0.49,0.588,0.54,0.42,0.58,0.50,0.62,0.45,0.55,0.597],
  [0.56,0.48,0.61,0.43,0.52,0.39,0.58,0.44,0.33,0.50,0.41,0.23,0.21,0.22,0.18,0.12,0.10,0.085,0.07,0.065,0.06,0.055,0.052],
  [0.05,0.047,0.053,0.045,0.05,0.048,0.055,0.046,0.051,0.049,0.053,0.045,0.05,0.055,0.048,0.052,0.058,0.05,0.062,0.056,0.068,0.06,0.075],
  [0.085,0.13,0.10,0.20,0.12,0.22,0.19,0.21,0.20,0.62,0.55,0.58,0.595,0.52,0.57,0.64,0.54,0.59,0.50,0.61,0.56,0.58,0.53],
  [0.597,0.52,0.57,0.63,0.50,0.55,0.41,0.59,0.53,0.61,0.48,0.56,0.588,0.51,0.58,0.47,0.65,0.54,0.50,0.59,0.62,0.55,0.57],
  [0.61,0.57,0.59,0.52,0.595,0.55,0.48,0.58,0.63,0.50,0.45,0.56,0.35,0.25,0.18,0.15,0.106,0.09,0.075,0.065,0.058,0.055,0.05],
  [0.05,0.047,0.052,0.045,0.049,0.054,0.046,0.05,0.048,0.053,0.045,0.051,0.047,0.055,0.05,0.06,0.052,0.065,0.058,0.07,0.062,0.08,0.068],
  [0.09,0.12,0.10,0.15,0.13,0.18,0.14,0.20,0.16,0.22,0.17,0.19,0.24,0.21,0.25,0.20,0.23,0.61,0.52,0.58,0.46,0.56,0.597],
  [0.55,0.62,0.48,0.58,0.52,0.595,0.45,0.56,0.59,0.50,0.64,0.44,0.57,0.53,0.588,0.47,0.58,0.51,0.61,0.55,0.49,0.59,0.56],
  [0.62,0.53,0.58,0.46,0.597,0.51,0.56,0.44,0.59,0.50,0.41,0.55,0.38,0.30,0.26,0.22,0.18,0.15,0.12,0.10,0.09,0.085,0.08]
];
const swcBlue = [
  [0.22,0.20,0.18,0.21,0.15,0.19,0.17,0.13,0.20,0.16,0.11,0.18,0.14,0.21,0.12,0.17,0.105,0.15,0.19,0.12,0.16,0.11,0.14],
  [0.13,0.20,0.11,0.16,0.12,0.18,null,0.21,null,null,0.35,null,null,0.30,null,null,0.38,null,null,null,0.33,null,null],
  [null,null,0.36,null,null,null,null,0.57,0.49,null,null,0.32,null,null,null,0.40,null,null,0.30,null,null,0.27,null],
  [null,0.25,null,null,0.28,null,0.22,null,0.20,null,0.17,0.21,0.13,0.19,0.15,0.22,0.11,0.18,0.14,0.20,0.12,0.16,0.19],
  [0.21,0.15,0.18,0.12,0.20,0.14,0.17,0.105,0.19,0.13,0.16,0.20,0.12,0.18,0.15,0.11,0.17,0.13,0.20,0.14,0.16,0.12,0.19],
  [0.15,0.20,0.13,0.17,0.22,0.14,0.19,0.16,null,0.21,null,null,0.30,null,null,0.27,null,null,null,0.35,null,null,null],
  [null,0.33,null,null,null,0.28,null,null,0.36,null,null,null,0.30,null,null,0.49,null,null,0.26,null,null,null,0.32],
  [null,null,0.24,null,0.21,null,0.18,0.22,0.15,0.20,0.17,0.12,0.19,0.14,0.21,0.11,0.16,0.20,0.13,0.18,0.15,0.22,0.12],
  [0.19,0.14,0.17,0.21,0.11,0.16,0.20,0.13,0.18,0.15,0.21,0.12,0.17,0.14,0.19,0.16,0.20,0.13,0.18,0.15,0.21,0.17,0.14],
  [0.19,0.16,0.21,0.18,0.20,0.15,0.22,null,0.19,null,null,0.30,null,null,0.38,null,null,null,0.55,null,null,0.33,null],
  [null,0.29,null,null,null,0.36,null,null,0.31,null,null,null,0.40,null,null,0.27,null,null,null,0.35,null,null,null],
  [], [], [],
  [0.57,null,0.48,0.22,null,0.40,0.55,null,0.16,0.45,null,0.35,null,0.13,null,0.30,null,null,0.38,null,null,0.27,null],
  [null,0.30,null,0.33,null,null,0.20,null,0.15,0.19,null,0.13,0.18,0.16,0.20,0.12,0.17,0.19,0.14,0.20,0.11,0.18,0.15],
  [0.12,0.08,0.17,0.10,0.065,0.14,0.09,0.19,0.07,0.12,0.16,0.08,0.11,0.065,0.15,0.09,0.13,0.18,0.075,0.11,0.14,0.08,0.10],
  [0.16,0.12,0.09,0.19,0.07,0.14,0.11,0.17,0.08,0.13,0.20,0.10,0.15,0.075,0.18,0.12,0.09,0.22,0.16,null,0.30,null,null],
  [null,null,0.27,null,null,null,0.33,null,null,null,0.29,null,null,null,null,0.35,null,null,null,0.26,null,null,null],
  [null,null,0.30,null,null,null,null,0.20,null,0.17,0.19,0.15,0.20,0.13,0.18,0.16,0.11,0.19,0.14,0.21,0.12,0.17,0.15],
  [0.18,0.11,0.15,0.20,0.13,0.09,0.17,0.12,0.19,0.14,0.10,0.16,0.21,0.13,0.18,0.11,0.15,0.20,0.12,0.17,0.14,0.10,0.16],
  [0.19,0.13,0.17,0.21,0.15,0.22,0.19,0.23,0.20,0.22,0.19,0.21,0.23,null,null,null,0.30,null,null,0.35,null,null,null],
  [null,0.54,null,null,null,0.40,null,null,0.33,null,null,null,0.45,null,null,null,0.31,null,null,0.50,null,null,null],
  [null,null,0.28,null,null,0.50,null,null,null,0.34,null,null,0.24,0.22,0.20,0.23,0.18,0.21,0.17,0.20,0.15,0.19,0.13],
  [0.15,0.08,0.19,0.11,0.065,0.17,0.13,0.21,0.09,0.14,0.06,0.18,0.10,0.15,0.07,0.20,0.12,0.065,0.16,0.09,0.13,0.07,0.11],
  [0.08,0.14,0.065,0.18,0.10,0.06,0.15,0.12,0.20,0.08,0.17,0.13,0.22,0.11,0.16,0.19,0.14,0.23,0.18,null,null,0.30,null],
  [null,null,0.35,null,null,null,0.28,null,null,0.42,null,null,null,0.31,null,null,null,0.38,null,null,0.30,null,null],
  [null,0.33,null,null,0.27,null,null,0.36,null,null,0.24,null,null,0.22,0.18,0.13,0.20,0.10,0.16,0.08,0.14,0.19,0.11]
];
const swcGreen = [
  [0.33,0.38,0.30,0.43,0.35,0.28,0.37,0.32,0.40,0.29,0.36,0.34,0.31,0.39,0.27,0.35,0.33,0.42,0.30,0.37,0.25,0.34,0.38],
  [0.31,0.36,0.29,0.41,0.34,0.30,0.38,0.33,0.45,0.36,0.31,0.40,0.35,0.43,0.29,0.39,0.34,0.46,0.37,0.32,0.42,0.36,0.30],
  [0.40,0.35,0.44,0.32,null,0.38,0.56,null,0.34,0.50,null,0.41,0.30,null,0.36,null,0.33,0.39,null,0.31,null,0.35,0.29],
  [0.34,0.30,0.37,null,0.32,0.28,null,0.33,0.30,0.26,0.31,0.28,0.33,0.27,0.30,0.25,0.32,0.29,0.26,0.31,0.28,0.30,0.27],
  [0.29,0.32,0.26,0.30,0.28,0.33,0.27,0.31,0.25,0.30,0.29,0.34,0.27,0.32,0.28,0.26,0.31,0.29,0.33,0.27,0.30,0.35,0.28],
  [0.32,0.29,0.36,0.30,0.34,0.28,0.37,0.31,0.35,0.44,0.33,0.39,0.46,0.36,0.41,0.34,0.38,0.43,0.35,0.40,0.37,0.45,0.33],
  [0.39,0.35,0.42,0.37,0.33,0.40,0.36,0.44,0.34,0.38,null,0.41,0.35,0.37,null,0.32,0.39,null,0.34,0.36,null,0.30,0.33],
  [0.35,null,0.31,0.33,0.29,0.34,0.30,0.27,0.32,0.28,0.31,0.25,0.30,0.27,0.33,0.29,0.26,0.31,0.28,0.32,0.22,0.30,0.27],
  [0.29,0.33,0.27,0.31,0.26,0.30,0.34,0.28,0.32,0.25,0.30,0.27,0.33,0.29,0.26,0.31,0.28,0.35,0.30,0.27,0.32,0.29,0.34],
  [0.31,0.36,0.29,0.33,0.38,0.30,0.35,0.41,0.32,0.37,0.44,0.34,0.39,0.45,0.36,0.42,0.33,0.40,0.37,0.43,0.35,0.39,0.46],
  [0.41,0.36,0.44,0.38,0.33,0.42,0.35,0.40,null,0.37,0.31,null,0.39,null,0.34,null,0.36,null,null,0.32,null,null,null],
  [], [], [],
  [0.57,0.51,null,0.47,0.43,null,0.38,0.55,null,0.40,null,0.35,null,null,0.36,null,0.33,null,null,0.38,null,null,0.34],
  [null,0.35,null,null,0.31,null,null,0.30,null,0.26,0.24,0.22,0.25,0.20,0.23,0.18,0.24,0.21,0.19,0.25,0.17,0.23,0.20],
  [0.22,0.16,0.24,0.19,0.13,0.21,0.17,0.25,0.14,0.20,0.23,0.15,0.18,0.22,0.12,0.19,0.24,0.16,0.21,0.14,0.18,0.23,0.17],
  [0.20,0.15,0.23,0.18,0.25,0.13,0.21,0.17,0.24,0.19,0.22,0.16,0.26,0.20,0.23,0.18,0.25,0.27,0.31,0.29,null,0.30,0.27],
  [0.30,null,0.28,0.31,null,0.27,null,0.29,null,null,0.32,null,null,0.38,null,null,0.30,null,null,null,0.35,null,null],
  [null,0.31,null,0.36,null,0.28,null,0.30,0.27,0.31,0.25,0.29,0.22,0.27,0.24,0.30,0.20,0.26,0.23,0.28,0.18,0.25,0.21],
  [0.27,0.20,0.24,0.29,0.18,0.23,0.26,0.16,0.25,0.21,0.28,0.19,0.24,0.27,0.17,0.22,0.30,0.20,0.25,0.23,0.28,0.21,0.26],
  [0.24,0.29,0.22,0.30,0.26,0.31,0.27,0.33,0.30,0.36,null,0.32,0.40,null,0.35,0.42,null,0.38,0.33,null,0.44,0.36,null],
  [0.39,null,0.34,0.41,null,0.36,null,0.43,0.38,null,0.33,null,0.40,null,0.37,0.45,null,0.35,null,0.42,null,0.38,0.34],
  [null,0.39,0.36,null,0.41,0.33,null,0.37,0.30,0.35,null,0.32,0.26,0.24,0.21,0.25,0.19,0.23,0.17,0.22,0.20,0.18,0.24],
  [0.20,0.14,0.23,0.17,0.12,0.21,0.16,0.24,0.19,0.13,0.22,0.15,0.20,0.18,0.25,0.14,0.21,0.17,0.23,0.12,0.19,0.16,0.22],
  [0.18,0.24,0.15,0.21,0.13,0.20,0.23,0.16,0.19,0.25,0.17,0.22,0.14,0.20,0.24,0.18,0.21,0.27,0.23,0.30,0.26,0.32,0.28],
  [0.34,0.30,null,0.37,0.33,null,0.39,null,0.31,0.36,null,0.40,null,0.35,null,0.32,null,0.38,null,0.34,null,0.30,null],
  [0.33,null,0.29,null,0.36,null,0.31,null,0.27,0.32,null,0.30,0.26,0.29,0.24,0.31,0.22,0.27,0.20,0.25,0.28,0.21,0.26]
];
const swcBlack = [
  [0.232,0.231,0.232,0.38,0.232,0.231,0.233,0.232,0.232,0.35,0.232,0.233,0.232,0.231,0.233,0.232,0.30,0.233,0.233,0.232,0.234,0.233,0.28],
  [0.235,0.236,0.235,0.236,0.236,0.237,0.236,0.237,0.34,0.237,0.236,0.25,0.30,0.24,0.33,0.27,0.36,0.26,0.31,0.245,0.35,0.29,0.38],
  [0.33,0.37,0.30,0.35,0.39,0.32,0.36,0.28,0.34,0.38,0.31,0.36,0.40,0.33,0.35,0.29,0.37,0.34,0.31,0.38,0.32,0.35,0.30],
  [0.34,0.29,0.36,0.31,0.27,0.33,0.30,0.26,0.32,0.25,0.232,0.231,0.232,0.232,0.231,0.232,0.231,0.232,0.232,0.231,0.232,0.232,0.231],
  [0.231,0.232,0.231,0.231,0.232,0.231,0.27,0.231,0.232,0.231,0.231,0.232,0.26,0.231,0.232,0.231,0.231,0.232,0.231,0.29,0.232,0.231,0.232],
  [0.232,0.231,0.232,0.26,0.232,0.233,0.232,0.28,0.233,0.232,0.233,0.27,0.33,0.25,0.36,0.30,0.38,0.28,0.34,0.31,0.37,0.29,0.35],
  [0.36,0.32,0.39,0.34,0.30,0.37,0.41,0.33,0.38,0.35,0.31,0.39,0.36,0.42,0.34,0.29,0.37,0.33,0.38,0.31,0.35,0.40,0.32],
  [0.36,0.31,0.34,0.28,0.33,0.26,0.30,0.27,0.25,0.29,0.24,0.236,0.236,0.235,0.236,0.236,0.235,0.236,0.236,0.235,0.236,0.236,0.236],
  [0.236,0.235,0.236,0.236,0.28,0.236,0.235,0.236,0.236,0.236,0.26,0.236,0.237,0.236,0.30,0.237,0.236,0.27,0.237,0.236,0.33,0.237,0.238],
  [0.237,0.238,0.29,0.237,0.238,0.26,0.238,0.237,0.32,0.238,0.25,0.238,0.28,0.35,0.30,0.37,0.27,0.33,0.39,0.31,0.36,0.29,0.34],
  [0.33,0.37,0.30,0.35,0.39,0.32,0.36,0.40,0.34,0.38,0.31,0.36,0.33,0.41,0.37,0.35,0.39,0.42,0.36,0.40,0.38,0.34,0.41],
  [0.38,0.35,0.41,0.33,0.37,0.30,0.34,0.29,0.32,0.28,0.31,0.27,0.248,0.249,0.29,0.248,0.248,0.31,0.248,0.249,0.27,0.248,0.248],
  [0.246,0.30,0.246,0.246,0.28,0.246,0.33,0.246,0.247,0.27,0.246,0.246,0.31,0.246,0.29,0.247,0.246,0.34,0.246,0.28,0.246,0.247,0.30],
  [0.246,0.29,0.247,0.32,0.246,0.27,0.247,0.35,0.246,0.30,0.247,0.28,0.36,0.25,0.33,0.42,0.29,0.38,0.31,0.26,0.35,0.30,0.37],
  [0.33,0.29,0.36,0.31,0.38,0.27,0.34,0.39,0.30,0.35,0.32,0.37,0.28,0.36,0.40,0.33,0.31,0.38,0.35,0.30,0.37,0.34,0.39],
  [0.36,0.31,0.34,0.29,0.33,0.28,0.31,0.27,0.30,0.26,0.29,0.27,0.26,0.28,0.25,0.26,0.249,0.248,0.249,0.248,0.248,0.249,0.248],
  [0.248,0.248,0.247,0.248,0.248,0.26,0.248,0.248,0.247,0.248,0.27,0.248,0.248,0.248,0.26,0.249,0.248,0.28,0.248,0.30,0.248,0.27,0.249],
  [0.248,0.29,0.248,0.27,0.249,0.31,0.248,0.26,0.249,0.33,0.248,0.28,0.249,0.30,0.248,0.27,0.35,0.31,0.38,0.33,0.36,0.30,0.39],
  [0.36,0.33,0.39,0.35,0.41,0.34,0.37,0.32,0.38,0.36,0.40,0.33,0.37,0.35,0.39,0.31,0.36,0.38,0.34,0.40,0.36,0.33,0.38],
  [0.37,0.34,0.39,0.32,0.36,0.30,0.35,0.31,0.28,0.33,0.29,0.27,0.264,0.263,0.264,0.263,0.264,0.264,0.263,0.264,0.263,0.264,0.263],
  [0.263,0.263,0.264,0.263,0.263,0.264,0.263,0.263,0.28,0.263,0.264,0.27,0.263,0.29,0.263,0.264,0.28,0.263,0.31,0.264,0.27,0.263,0.30],
  [0.263,0.264,0.29,0.263,0.28,0.264,0.263,0.32,0.27,0.36,0.30,0.39,0.33,0.28,0.37,0.41,0.34,0.31,0.38,0.35,0.30,0.40,0.36],
  [0.33,0.37,0.30,0.35,0.40,0.32,0.36,0.29,0.34,0.38,0.31,0.35,0.42,0.33,0.37,0.30,0.36,0.39,0.32,0.35,0.38,0.31,0.34],
  [0.37,0.32,0.35,0.30,0.38,0.33,0.29,0.36,0.31,0.28,0.34,0.27,0.30,0.262,0.261,0.262,0.261,0.261,0.262,0.261,0.262,0.261,0.261],
  [0.261,0.262,0.261,0.261,0.262,0.261,0.27,0.261,0.262,0.261,0.28,0.261,0.261,0.29,0.262,0.261,0.27,0.261,0.30,0.262,0.28,0.261,0.32],
  [0.261,0.29,0.262,0.33,0.261,0.28,0.262,0.31,0.261,0.35,0.262,0.27,0.261,0.30,0.262,0.34,0.261,0.29,0.262,0.37,0.261,0.32,0.262],
  [0.262,0.30,0.34,0.38,0.32,0.36,0.40,0.35,0.33,0.39,0.37,0.34,0.41,0.36,0.38,0.33,0.40,0.35,0.37,0.42,0.34,0.39,0.36],
  [0.38,0.35,0.40,0.33,0.37,0.31,0.36,0.34,0.29,0.33,0.30,0.28,0.32,0.27,0.29,0.265,0.262,0.27,0.261,0.262,0.261,0.262,0.261]
];

// ---------------------------------------------------------------
// Helpers
// ---------------------------------------------------------------
function quarterRows(rows) {
  const pts = [];
  rows.forEach((row, q) => {
    const n = row.length;
    row.forEach((v, j) => {
      if (v !== null && v !== undefined) pts.push([YEAR0 + (q + j / n) / 4, v]);
    });
  });
  return pts;
}

const PLUS = 'path://M3,0H5V3H8V5H5V8H3V5H0V3H3Z';
const FONT = '"DejaVu Sans", "Liberation Sans", sans-serif';
const TEXT_COLOR = '#1e1e1e';
const GRID_COLOR = '#ababab';
const FONT_SIZE = 18;

const PLOT_LEFT = 89, PLOT_RIGHT = 12, PLOT_H = 296;
const panelTops = [17, 356, 694, 1033];
const yRanges = [
  { min: 220, max: 300, interval: 10, fmt: v => String(v) },
  { min: 288, max: 306, interval: 2, fmt: v => String(v) },
  { min: 0, max: 4, interval: 0.5, fmt: v => v.toFixed(1) },
  { min: 0, max: 0.6, interval: 0.05, fmt: v => v.toFixed(2) }
];

const dotted = { color: GRID_COLOR, width: 1, type: [1.2, 3.2] };

const grids = [], xAxes = [], yAxes = [];
panelTops.forEach((top, g) => {
  grids.push({ left: PLOT_LEFT, right: PLOT_RIGHT, top: top, height: PLOT_H, outerBoundsMode: 'none', containLabel: false });
  const xBase = {
    type: 'value', gridIndex: g, min: 2009, max: 2016, interval: 1,
    axisLine: { show: true, onZero: false, lineStyle: { color: '#000', width: 1 } },
    axisTick: { show: true, inside: true, length: 9, lineStyle: { color: '#000', width: 1 } },
    minorTick: { show: true, splitNumber: 4, length: 4, lineStyle: { color: '#000', width: 1 } }
  };
  xAxes.push(Object.assign({}, xBase, {
    position: 'bottom',
    splitLine: { show: true, lineStyle: dotted },
    minorSplitLine: { show: true, lineStyle: dotted },
    axisLabel: {
      show: true, margin: 19, color: TEXT_COLOR, fontFamily: FONT, fontSize: FONT_SIZE,
      showMaxLabel: false,
      formatter: v => yearLabels[Math.round(v - YEAR0)] || ''
    }
  }));
  xAxes.push(Object.assign({}, xBase, {
    position: 'top',
    splitLine: { show: false }, minorSplitLine: { show: false },
    axisLabel: { show: false }
  }));
  const r = yRanges[g];
  const yBase = {
    type: 'value', gridIndex: g, min: r.min, max: r.max, interval: r.interval,
    axisLine: { show: true, onZero: false, lineStyle: { color: '#000', width: 1 } },
    axisTick: { show: true, inside: true, length: 9, lineStyle: { color: '#000', width: 1 } }
  };
  yAxes.push(Object.assign({}, yBase, {
    position: 'left',
    splitLine: { show: true, lineStyle: dotted },
    axisLabel: { show: true, margin: 11, color: TEXT_COLOR, fontFamily: FONT, fontSize: FONT_SIZE, formatter: r.fmt }
  }));
  yAxes.push(Object.assign({}, yBase, {
    position: 'right',
    splitLine: { show: false },
    axisLabel: { show: false }
  }));
});

function scatter(name, g, rows, color, size) {
  return {
    type: 'scatter', name: name,
    xAxisIndex: 2 * g, yAxisIndex: 2 * g,
    data: quarterRows(rows),
    symbol: PLUS, symbolSize: size,
    itemStyle: { color: color, opacity: 1 },
    silent: true, clip: true, animation: false
  };
}

const series = [
  scatter('V', 0, tbV, '#00007f', 5.5),
  scatter('H', 0, tbH, '#ff00ff', 5.5),
  scatter('ground', 1, tGround, '#a52a2a', 5.5),
  scatter('canopy', 1, tCanopy, '#00c000', 5.5),
  scatter('LAI', 2, lai, '#000000', 6),
  scatter('swc red', 3, swcRed, '#ff0000', 6),
  scatter('swc blue', 3, swcBlue, '#0000ff', 6),
  scatter('swc green', 3, swcGreen, '#00ff00', 6),
  scatter('swc black', 3, swcBlack, '#000000', 6)
];

// Axis titles (rotated) and keys
function yTitle(text, cx, cy) {
  return {
    type: 'text', x: cx, y: cy, rotation: Math.PI / 2, silent: true,
    style: { text: text, fill: TEXT_COLOR, font: FONT_SIZE + 'px ' + FONT, textAlign: 'center', textVerticalAlign: 'middle', verticalAlign: 'middle' }
  };
}
function keyText(text, rightX, cy) {
  return {
    type: 'text', x: rightX, y: cy, silent: true,
    style: { text: text, fill: TEXT_COLOR, font: FONT_SIZE + 'px ' + FONT, textAlign: 'right', textVerticalAlign: 'middle', verticalAlign: 'middle' }
  };
}
function keyMark(cx, cy, color) {
  return {
    type: 'group', x: cx, y: cy, silent: true,
    children: [
      { type: 'rect', shape: { x: -3, y: -0.8, width: 6, height: 1.6 }, style: { fill: color } },
      { type: 'rect', shape: { x: -0.8, y: -3, width: 1.6, height: 6 }, style: { fill: color } }
    ]
  };
}

const graphic = [
  // window chrome strips around the figure
  { type: 'rect', shape: { x: 0, y: 0, width: 896, height: 8.5 }, style: { fill: '#dce6f2' }, silent: true },
  { type: 'rect', shape: { x: 913, y: 5, width: 47, height: 4, r: [3, 3, 0, 0] }, style: { fill: '#2d3c8e' }, silent: true },
  { type: 'rect', shape: { x: 0, y: 1372.5, width: 980, height: 2.5 }, style: { fill: '#4472c4' }, silent: true },

  yTitle('brightness temperature [K]', 24, 165),
  yTitle('temperature [K]', 24, 504),
  yTitle('LAI', 24, 842),
  yTitle('volumetric soil water content', 14, 1181),

  keyText('V', 877, 265.5), keyMark(916.5, 265, '#00007f'),
  keyText('H', 877, 291), keyMark(916.5, 290.5, '#ff00ff'),
  keyText('ground', 877, 604), keyMark(916.5, 604, '#a52a2a'),
  keyText('canopy', 877, 630), keyMark(916.5, 629.5, '#00c000')
];

const chart = echarts.init(document.getElementById('chart'), null, { renderer: 'canvas' });
chart.setOption({
  animation: false,
  backgroundColor: '#ffffff',
  grid: grids,
  xAxis: xAxes,
  yAxis: yAxes,
  series: series,
  graphic: graphic
});
</script>
</body>
</html>
